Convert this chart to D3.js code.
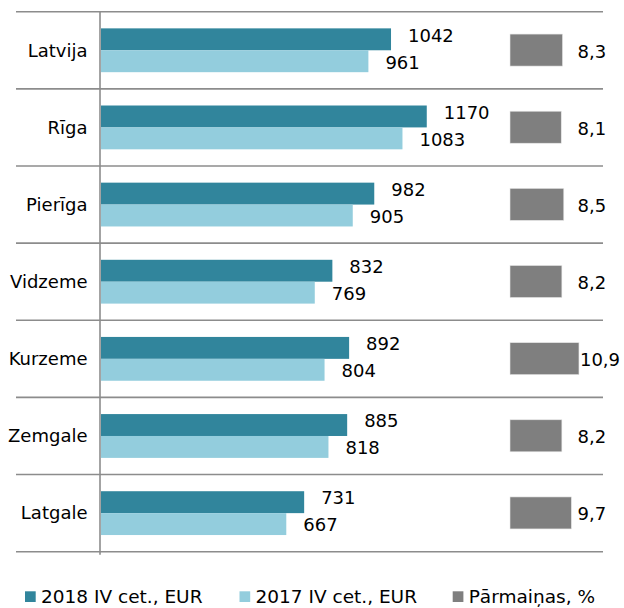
<!DOCTYPE html>
<html>
<head>
<meta charset="utf-8">
<script src="https://cdn.jsdelivr.net/npm/d3@7"></script>
<style>
  body { margin: 0; background: #fff; }
  text { font-family: "DejaVu Sans", Verdana, sans-serif; fill: #000; }
</style>
</head>
<body>
<div id="chart"></div>
<script>
// Data
var regions = ["Latvija", "Rīga", "Pierīga", "Vidzeme", "Kurzeme", "Zemgale", "Latgale"];
var wage2018 = [1042, 1170, 982, 832, 892, 885, 731];
var wage2017 = [961, 1083, 905, 769, 804, 818, 667];
var change = [8.3, 8.1, 8.5, 8.2, 10.9, 8.2, 9.7];
var legendLabels = ["2018 IV cet., EUR", "2017 IV cet., EUR", "Pārmaiņas, %"];

var colors = ["#31859c", "#93cddd", "#7f7f7f"];
var width = 624, height = 608;

var svg = d3.select("#chart")
  .append("svg")
    .attr("width", width)
    .attr("height", height);

// Scales
var y = d3.scaleBand()
  .domain(regions)
  .range([11.7, 551.7]);

var bw = y.bandwidth();

var ySub = d3.scaleBand()
  .domain(["2018", "2017"])
  .range([bw * 0.216, bw * 0.784]);

var x = d3.scaleLinear()
  .domain([0, 1400])
  .range([100, 491]);

var xc = d3.scaleLinear()
  .domain([0, 11])
  .range([510, 579.6]);

// Grid lines between categories
var bounds = regions.map(d => y(d)).concat([y.range()[1]]);
svg.selectAll(".grid")
  .data(bounds)
  .enter().append("line")
    .attr("x1", 16)
    .attr("x2", 603)
    .attr("y1", d => d)
    .attr("y2", d => d)
    .attr("stroke", "#8c8c8c")
    .attr("stroke-width", 1.6);

// Vertical axis line
svg.append("line")
  .attr("x1", x(0)).attr("x2", x(0))
  .attr("y1", y.range()[0]).attr("y2", y.range()[1] + 3)
  .attr("stroke", "#8c8c8c")
  .attr("stroke-width", 1.6);

var rows = svg.selectAll(".row")
  .data(regions)
  .enter().append("g")
    .attr("transform", d => "translate(0," + y(d) + ")");

// Category labels
rows.append("text")
  .attr("x", 87.5)
  .attr("y", bw / 2)
  .attr("dy", "0.35em")
  .attr("text-anchor", "end")
  .attr("font-size", 18)
  .text(d => d);

// 2018 bars
rows.append("rect")
  .attr("x", x(0) + 1)
  .attr("y", ySub("2018"))
  .attr("width", (d, i) => x(wage2018[i]) - x(0) - 1)
  .attr("height", ySub.bandwidth())
  .attr("fill", colors[0]);

// 2017 bars
rows.append("rect")
  .attr("x", x(0) + 1)
  .attr("y", ySub("2017"))
  .attr("width", (d, i) => x(wage2017[i]) - x(0) - 1)
  .attr("height", ySub.bandwidth())
  .attr("fill", colors[1]);

// value labels
rows.append("text")
  .attr("x", (d, i) => x(wage2018[i]) + 17)
  .attr("y", ySub("2018") + ySub.bandwidth() / 2 - 4)
  .attr("dy", "0.35em")
  .attr("font-size", 18)
  .text((d, i) => wage2018[i]);

rows.append("text")
  .attr("x", (d, i) => x(wage2017[i]) + 17)
  .attr("y", ySub("2017") + ySub.bandwidth() / 2 + 1)
  .attr("dy", "0.35em")
  .attr("font-size", 18)
  .text((d, i) => wage2017[i]);

// change bars (gray)
rows.append("rect")
  .attr("x", xc(0))
  .attr("y", bw * 0.29)
  .attr("width", (d, i) => xc(change[i]) - xc(0))
  .attr("height", bw * 0.415)
  .attr("fill", colors[2])
  .attr("stroke", "#e6e6e6")
  .attr("stroke-width", 0.6);

rows.append("text")
  .attr("x", (d, i) => Math.max(xc(change[i]) + 1, 577.5))
  .attr("y", bw / 2 + 1)
  .attr("dy", "0.35em")
  .attr("font-size", 18)
  .text((d, i) => String(change[i]).replace(".", ","));

// Legend
var legendX = [25, 239.5, 452.7];
var legend = svg.selectAll(".legend")
  .data(legendLabels)
  .enter().append("g")
    .attr("transform", (d, i) => "translate(" + legendX[i] + ",591.3)");

legend.append("rect")
  .attr("width", 10.7)
  .attr("height", 10.7)
  .attr("fill", (d, i) => colors[i]);

legend.append("text")
  .attr("x", 16)
  .attr("y", 12)
  .attr("font-size", 18.5)
  .text(d => d);
</script>
</body>
</html>
